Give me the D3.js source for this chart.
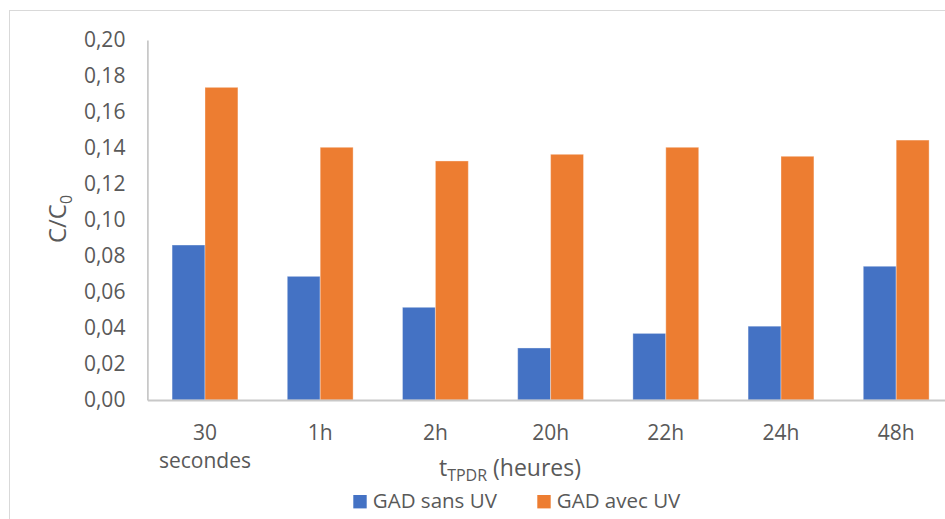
<!DOCTYPE html>
<html>
<head>
<meta charset="utf-8">
<script src="https://cdn.jsdelivr.net/npm/d3@7"></script>
<style>
  html, body { margin: 0; padding: 0; background: #fff; }
  svg { display: block; }
  text { font-family: "Open Sans", "Noto Sans", sans-serif; fill: #595959; }
</style>
</head>
<body>
<svg id="chart" width="945" height="519"></svg>
<script>
// Durations of the TPDR treatment
const categories = ["30 secondes", "1h", "2h", "20h", "22h", "24h", "48h"];
// C/C0 ratios for each series
const sansUV = [0.0861, 0.0687, 0.0515, 0.0289, 0.0370, 0.0410, 0.0743];
const avecUV = [0.1737, 0.1404, 0.1328, 0.1365, 0.1404, 0.1354, 0.1444];
const seriesNames = ["GAD sans UV", "GAD avec UV"];
const seriesColors = ["#4472C4", "#ED7D31"];
const yTicks = [0, 0.02, 0.04, 0.06, 0.08, 0.10, 0.12, 0.14, 0.16, 0.18, 0.20];

const svg = d3.select("#chart");

// outer chart frame
svg.append("rect")
  .attr("x", 9.5).attr("y", 10.5)
  .attr("width", 960).attr("height", 540)
  .attr("fill", "none").attr("stroke", "#d9d9d9").attr("stroke-width", 1);

const plot = { left: 147.4, right: 953.8, top: 40, bottom: 400 };

const x0 = d3.scaleBand()
  .domain(categories)
  .range([plot.left, plot.right])
  .paddingInner(1.5 / 3.5)
  .paddingOuter(0.75 / 3.5);

const x1 = d3.scaleBand()
  .domain(seriesNames)
  .range([0, x0.bandwidth()]);

const y = d3.scaleLinear().domain([0, 0.20]).range([plot.bottom, plot.top]);

const fr = d3.formatLocale({ decimal: ",", thousands: " ", grouping: [3], currency: ["", " €"] });
const fmt = fr.format(".2f");

// y axis
const yAxis = svg.append("g")
  .attr("transform", `translate(${plot.left},0)`)
  .call(d3.axisLeft(y).tickValues(yTicks).tickFormat(fmt).tickSize(0).tickPadding(22));
yAxis.select(".domain").attr("stroke", "#bfbfbf").attr("stroke-width", 1.5);
yAxis.selectAll("text")
  .style("font-size", "21px")
  .attr("fill", "#595959");

// bars
const rows = categories.map((c, i) => ({ cat: c, vals: [sansUV[i], avecUV[i]] }));
const groups = svg.append("g").selectAll("g")
  .data(rows).join("g")
  .attr("transform", d => `translate(${x0(d.cat)},0)`);

groups.selectAll("rect")
  .data(d => d.vals.map((v, k) => ({ name: seriesNames[k], v, k })))
  .join("rect")
  .attr("x", d => x1(d.name))
  .attr("y", d => y(d.v))
  .attr("width", x1.bandwidth())
  .attr("height", d => y(0) - y(d.v))
  .attr("fill", d => seriesColors[d.k])
  .attr("stroke", "rgba(255,255,255,0.35)")
  .attr("stroke-width", 1);

// x axis baseline
const xAxis = svg.append("g")
  .attr("transform", `translate(0,${plot.bottom})`)
  .call(d3.axisBottom(x0).tickSize(0).tickFormat(""));
xAxis.select(".domain").attr("stroke", "#c8c8c8").attr("stroke-width", 2);

// category labels (wrapped on spaces)
const catLabels = svg.append("g");
categories.forEach(c => {
  const t = catLabels.append("text")
    .attr("x", x0(c) + x0.bandwidth() / 2)
    .attr("y", 440)
    .attr("text-anchor", "middle")
    .style("font-size", "21px");
  c.split(" ").forEach((w, j) => {
    t.append("tspan")
      .attr("x", x0(c) + x0.bandwidth() / 2)
      .attr("dy", j === 0 ? 0 : 28)
      .text(w);
  });
});

// x axis title
const xt = svg.append("text")
  .attr("x", 510).attr("y", 476)
  .attr("text-anchor", "middle")
  .style("font-size", "23px");
xt.append("tspan").text("t");
xt.append("tspan").attr("dy", 5).style("font-size", "16px").text("TPDR");
xt.append("tspan").attr("dy", -5).text(" (heures)");

// y axis title
const yt = svg.append("text")
  .attr("transform", "translate(66,219) rotate(-90)")
  .attr("text-anchor", "middle")
  .style("font-size", "24px");
yt.append("tspan").text("C/C");
yt.append("tspan").attr("dy", 6).style("font-size", "16px").text("0");

// legend
const legendItems = [
  { name: seriesNames[0], color: seriesColors[0], x: 353.3 },
  { name: seriesNames[1], color: seriesColors[1], x: 537.3 }
];
const lg = svg.append("g");
legendItems.forEach(d => {
  lg.append("rect")
    .attr("x", d.x).attr("y", 495)
    .attr("width", 13.4).attr("height", 13.4)
    .attr("fill", d.color);
  lg.append("text")
    .attr("x", d.x + 19.5).attr("y", 508)
    .style("font-size", "20.5px")
    .text(d.name);
});
</script>
</body>
</html>
